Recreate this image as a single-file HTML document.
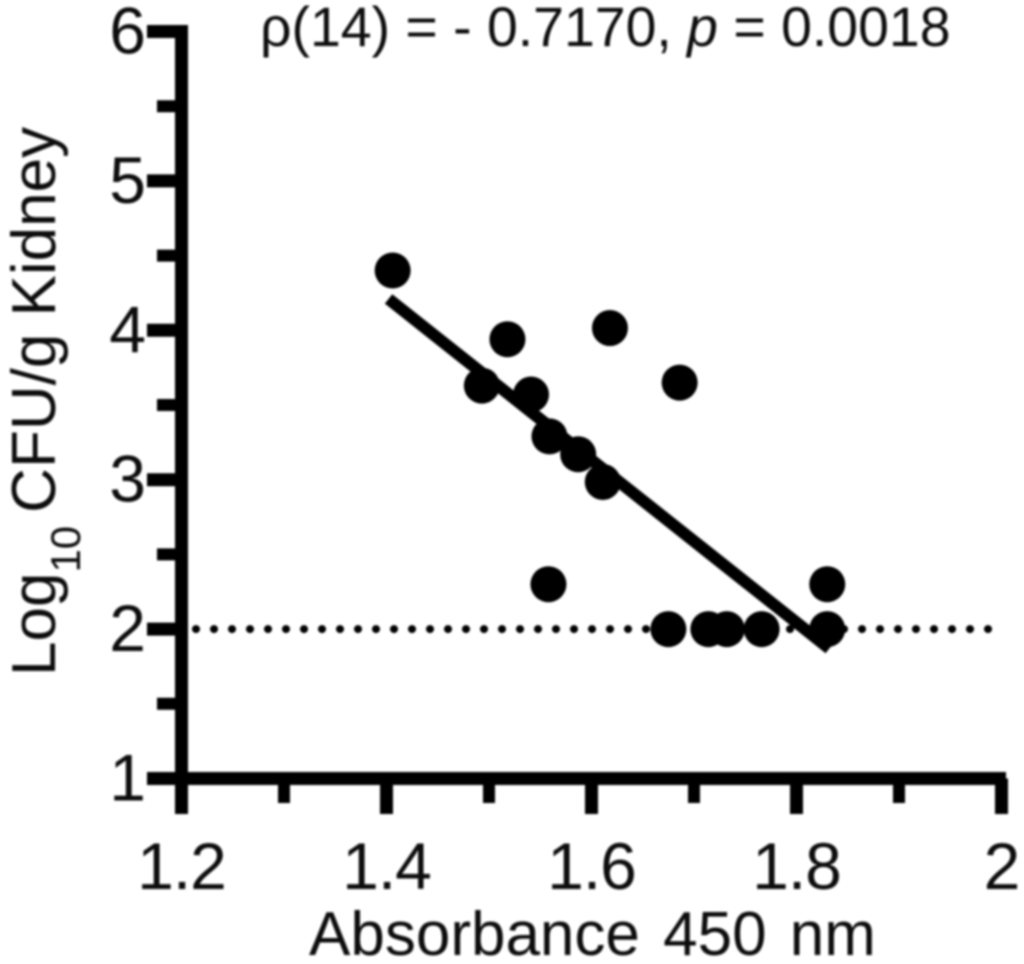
<!DOCTYPE html>
<html>
<head>
<meta charset="utf-8">
<title>Scatter plot of kidney CFU against absorbance</title>
<style>
html,body{margin:0;padding:0;background:#fff;width:1024px;height:964px;overflow:hidden}
svg{display:block}
text{font-family:"Liberation Sans",sans-serif;fill:#111}
</style>
</head>
<body>
<svg id="chart" width="1024" height="964" viewBox="0 0 1024 964" xmlns="http://www.w3.org/2000/svg">
<defs><filter id="soft" x="-5%" y="-5%" width="110%" height="110%"><feGaussianBlur stdDeviation="1"/></filter></defs>
<g id="root" filter="url(#soft)">
<g id="limit"></g>
<g id="fit"></g>
<g id="points"></g>
<g id="axes"></g>
<text x="260" y="46" font-size="55.4">ρ(14) = - 0.7170, <tspan font-style="italic">p</tspan> = 0.0018</text>
<text x="309" y="955" font-size="62" word-spacing="6">Absorbance 450 nm</text>
<text transform="translate(55,676) rotate(-90)" font-size="62">Log<tspan font-size="42" dy="25">10</tspan><tspan dy="-25" dx="13">CFU/g Kidney</tspan></text>
</g>
</svg>
<script>
const xValues = [1.406,1.518,1.618,1.686,1.493,1.541,1.559,1.587,1.611,1.558,1.675,1.714,1.732,1.766,1.830,1.830];
const yValues = [4.40,3.94,4.015,3.65,3.63,3.57,3.29,3.17,2.985,2.30,2.0,2.0,2.0,2.0,2.30,2.0];
const fitX = [1.402,1.832];
const fitY = [4.21,1.87];
const limitValue = 2;
const limitRange = [1.2141,1.987];
const xMajorTicks = [1.2,1.4,1.6,1.8,2.0];
const xTickLabels = ['1.2','1.4','1.6','1.8','2'];
const xMinorTicks = [1.3,1.5,1.7,1.9];
const yMajorTicks = [1,2,3,4,5,6];
const yTickLabels = ['1','2','3','4','5','6'];
const yMinorTicks = [1.5,2.5,3.5,4.5,5.5];

const NS = 'http://www.w3.org/2000/svg';
function sx(v){ return 181.5 + (v - 1.2) * 1025; }
function sy(v){ return 778.5 - (v - 1) * 149.4; }
function make(tag, parent, attrs){
  const el = document.createElementNS(NS, tag);
  for (const k in attrs) el.setAttribute(k, attrs[k]);
  parent.appendChild(el);
  return el;
}
const axes = document.getElementById('axes');
const pts = document.getElementById('points');
const fit = document.getElementById('fit');
const limit = document.getElementById('limit');

const limitLine = make('line', limit, {x1:sx(limitRange[0]),x2:sx(limitRange[1]),y1:sy(limitValue),y2:sy(limitValue),stroke:'#000','stroke-width':8,'stroke-linecap':'round','stroke-dasharray':'0.1 17.9'});



const fitLine = make('line', fit, {x1:sx(fitX[0]),x2:sx(fitX[1]),y1:sy(fitY[0]),y2:sy(fitY[1]),stroke:'#000','stroke-width':12});



xValues.forEach(function(x, i){
  const c = make('circle', pts, {cx:sx(x),cy:sy(yValues[i]),r:18,fill:'#000'});
  
  
});

const yAxis = make('line', axes, {x1:sx(1.2),x2:sx(1.2),y1:sy(6)-6.5,y2:814,stroke:'#000','stroke-width':13});


const xAxis = make('line', axes, {x1:147,x2:1006,y1:sy(1),y2:sy(1),stroke:'#000','stroke-width':13});



yMajorTicks.forEach(function(v, i){
  const t = make('line', axes, {x1:147,x2:sx(1.2),y1:sy(v),y2:sy(v),stroke:'#000','stroke-width':13});
  
  
  const l = make('text', axes, {x:146,y:sy(v)+22,'font-size':66,'text-anchor':'end'});
  l.textContent = yTickLabels[i];
  
  
});
yMinorTicks.forEach(function(v){
  const t = make('line', axes, {x1:157,x2:sx(1.2),y1:sy(v),y2:sy(v),stroke:'#000','stroke-width':12});
  
  
});
xMajorTicks.forEach(function(v, i){
  const t = make('line', axes, {x1:sx(v),x2:sx(v),y1:sy(1),y2:814,stroke:'#000','stroke-width':13});
  
  
  const l = make('text', axes, {x:sx(v),y:889,'font-size':66,'text-anchor':'middle','letter-spacing':-1});
  l.textContent = xTickLabels[i];
  
  
});
xMinorTicks.forEach(function(v){
  const t = make('line', axes, {x1:sx(v),x2:sx(v),y1:sy(1),y2:803,stroke:'#000','stroke-width':12});
  
  
});
</script>
</body>
</html>
